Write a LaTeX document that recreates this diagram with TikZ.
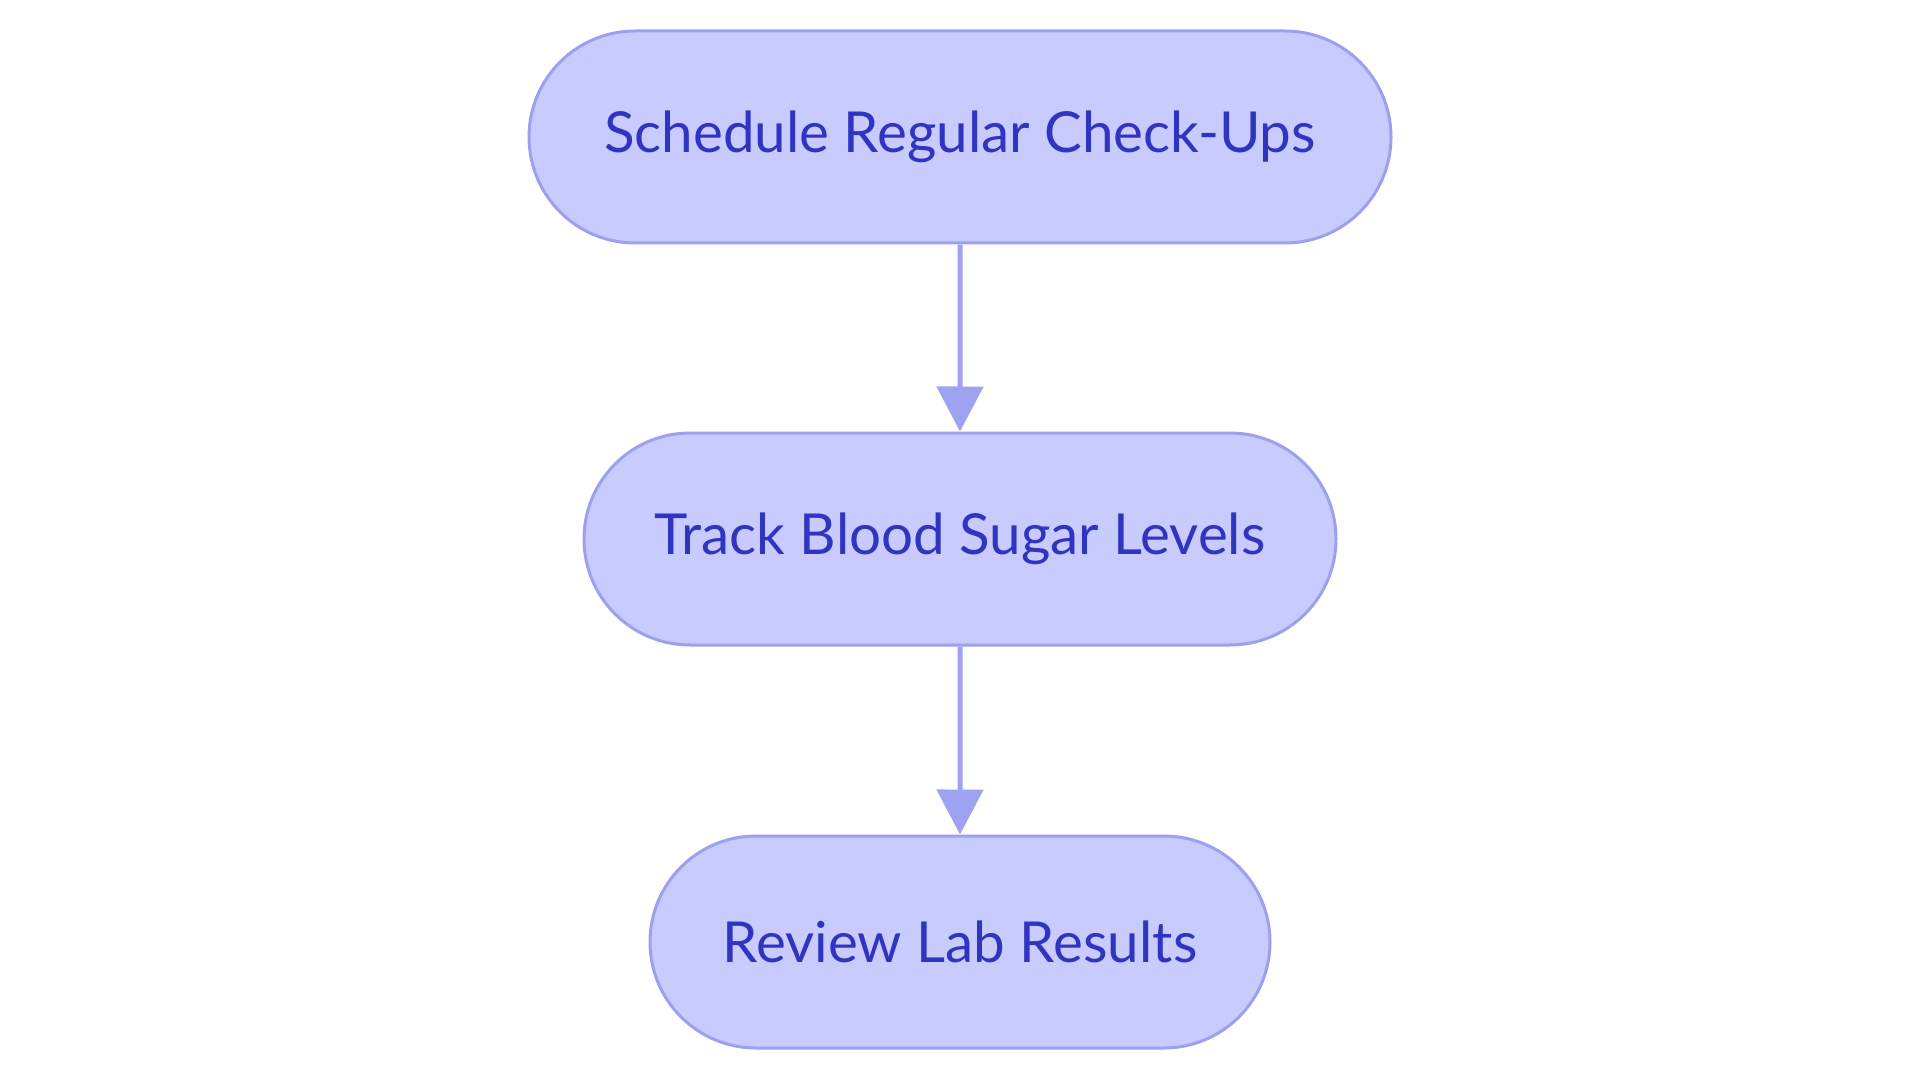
\documentclass[tikz,border=0pt]{standalone}
\usepackage{fontspec}
\setmainfont{Lato}
\usetikzlibrary{shapes.misc,arrows.meta}
\definecolor{nodefill}{HTML}{C8CBFD}
\definecolor{nodeline}{HTML}{9CA0EE}
\definecolor{nodetext}{HTML}{3034C0}
\definecolor{edgecol}{HTML}{9EA2F0}
\tikzset{
  stadium/.style={rounded rectangle, draw=nodeline, fill=nodefill, line width=3pt,
    text=nodetext, font=\fontsize{56.5}{62}\selectfont, inner sep=0pt, minimum height=212pt},
  flowarrow/.style={draw=edgecol, line width=5pt,
    -{Triangle[width=46pt,length=45pt,fill=edgecol]}}
}
\begin{document}
\begin{tikzpicture}[x=1pt,y=-1pt]
\useasboundingbox (0,0) rectangle (1920,1083);
\node[stadium, minimum width=862pt] (a) at (960,137) {Schedule Regular Check-Ups};
\node[stadium, minimum width=752pt] (b) at (960,539) {Track Blood Sugar Levels};
\node[stadium, minimum width=620pt] (c) at (960,942) {Review Lab Results};
\draw[flowarrow] (a) -- (b);
\draw[flowarrow] (b) -- (c);
\end{tikzpicture}
\end{document}
